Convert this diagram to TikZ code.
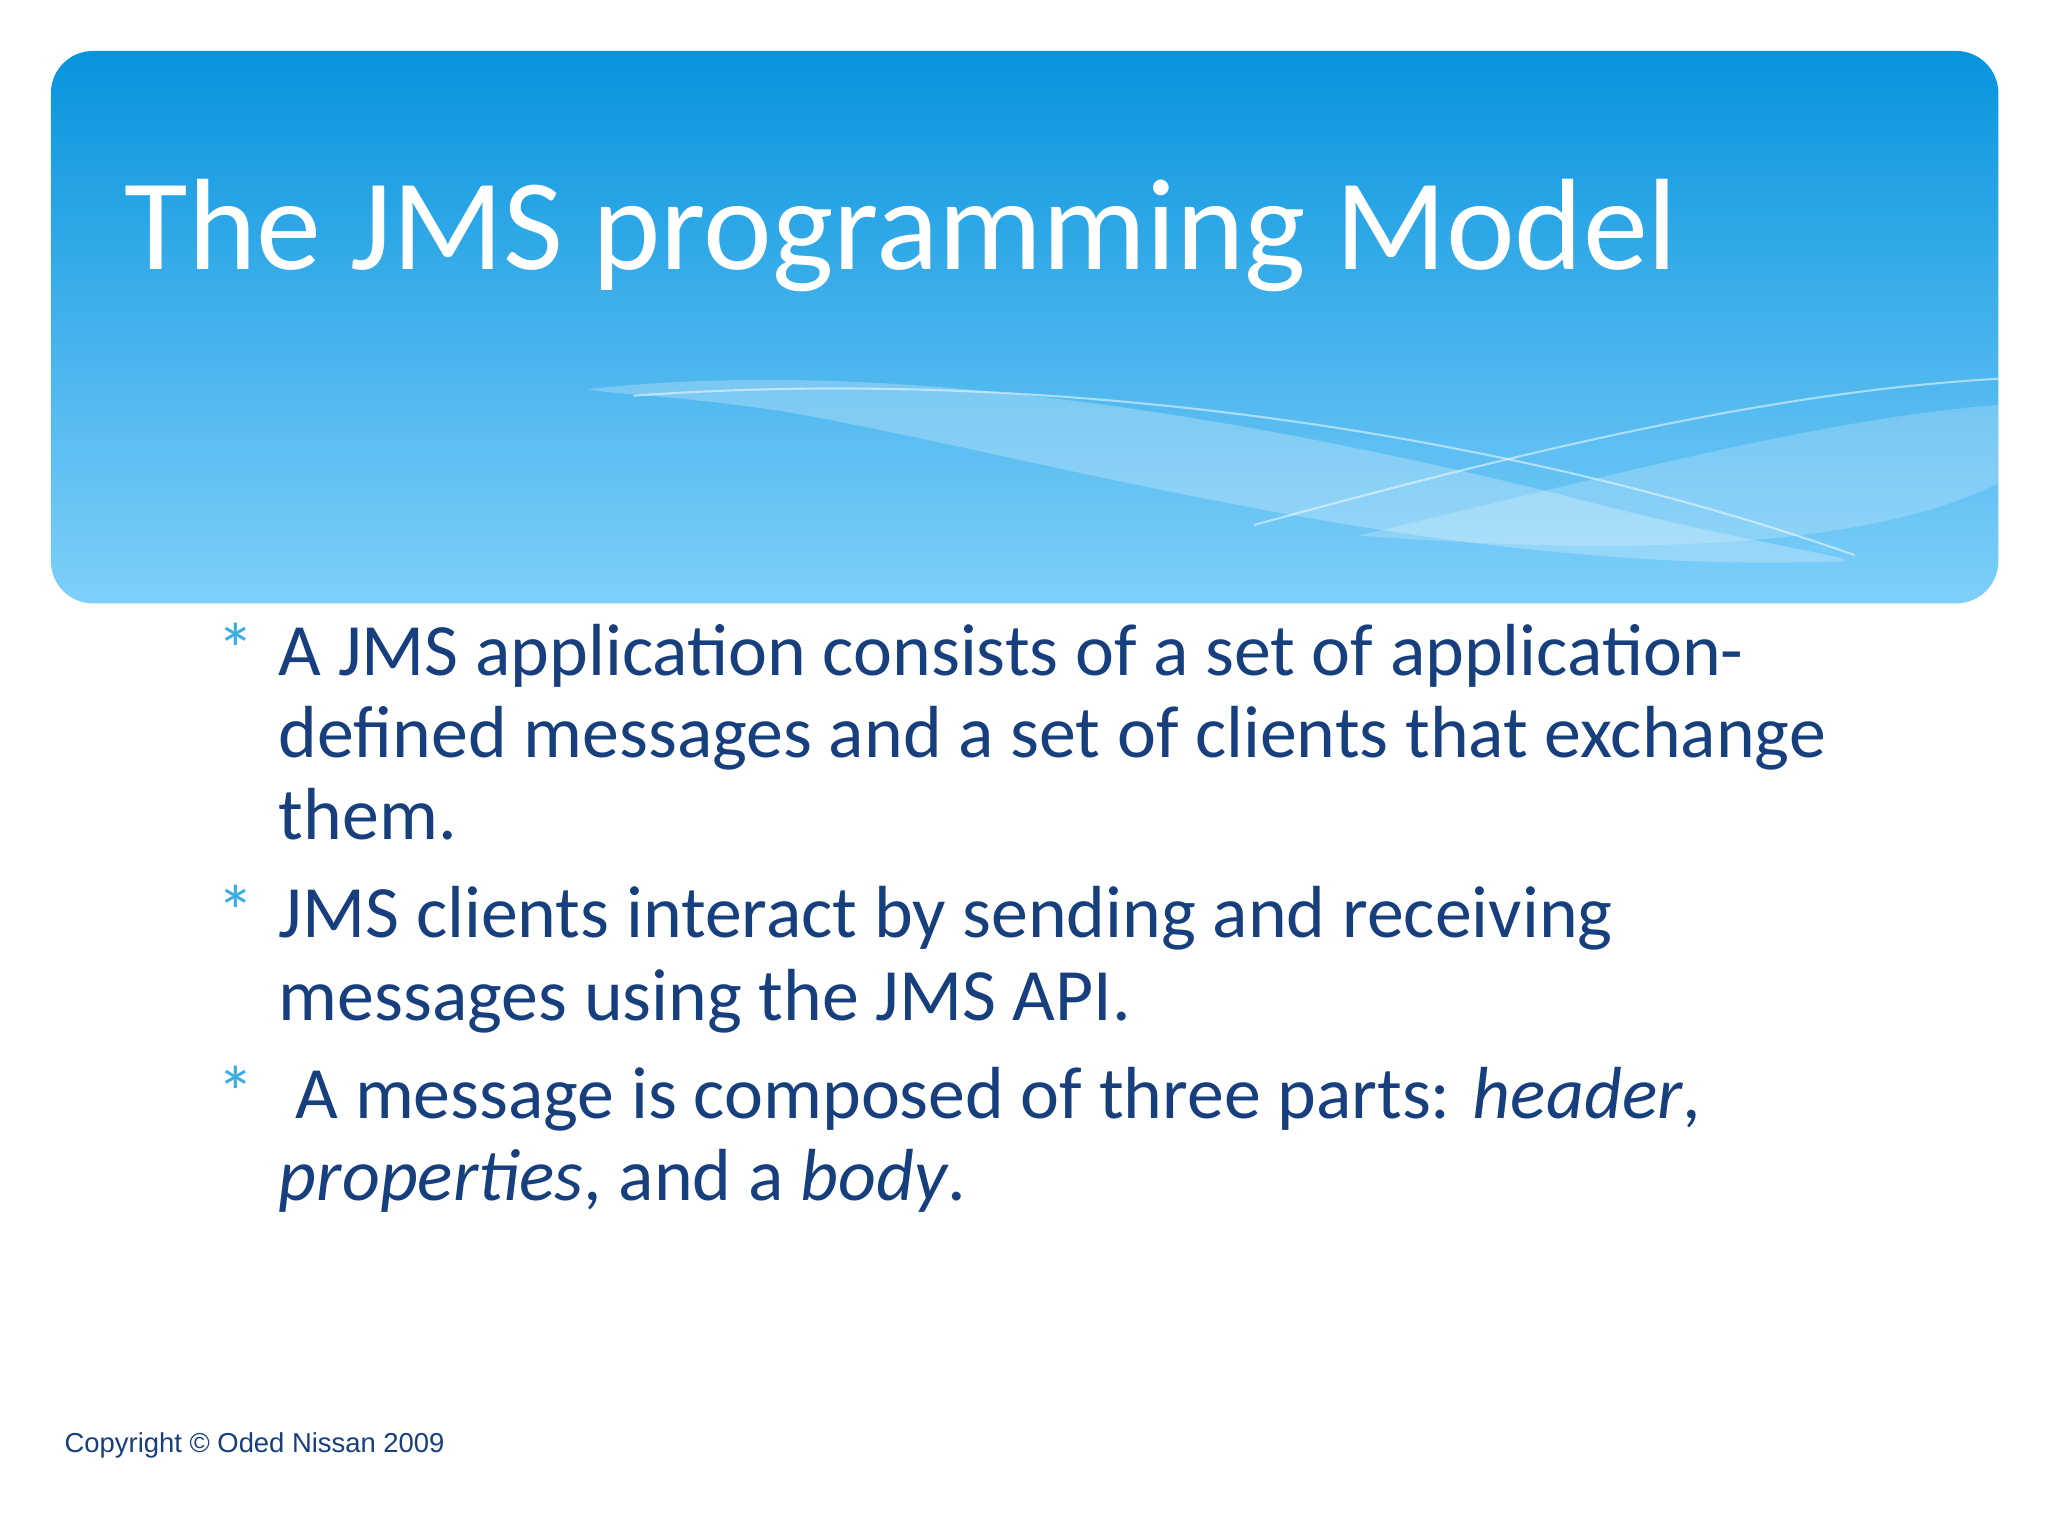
\documentclass[tikz,border=0pt]{standalone}
\usepackage{fontspec}
\setmainfont{Carlito}
\newfontfamily\arialf{Liberation Sans}
\definecolor{hdtop}{HTML}{0794DD}
\definecolor{hdbot}{HTML}{7FCFFA}
\definecolor{txtblue}{HTML}{173F7D}
\definecolor{bulblue}{HTML}{3AAEE2}
\tikzset{
  bline/.style={anchor=base west,inner sep=0pt,text=txtblue,font=\fontsize{21}{25}\selectfont},
  bull/.style={anchor=base west,inner sep=0pt,text=bulblue,font=\fontsize{21}{25}\selectfont},
}
\begin{document}
\begin{tikzpicture}[x=0.013061cm,y=-0.013061cm]
\useasboundingbox (0,0) rectangle (1568,1176);
\fill[white] (0,0) rectangle (1568,1176);
\shade[top color=hdtop,bottom color=hdbot,rounded corners=12pt] (39,39) rectangle (1530,462);
\begin{scope}
\clip[rounded corners=12pt] (39,39) rectangle (1530,462);
\fill[white,opacity=0.25] (450,298) .. controls (700,270) and (1000,330) .. (1200,380) .. controls (1350,420) and (1450,430) .. (1400,430) .. controls (1100,440) and (800,350) .. (600,315) .. controls (520,303) and (470,302) .. (450,298) -- cycle;
\fill[white,opacity=0.2] (1040,410) .. controls (1250,360) and (1400,320) .. (1530,310) -- (1530,370) .. controls (1450,410) and (1300,430) .. (1040,410) -- cycle;
\draw[white,opacity=0.5,line width=0.6pt] (485,303) .. controls (800,280) and (1150,330) .. (1420,425);
\draw[white,opacity=0.5,line width=0.6pt] (960,402) .. controls (1150,350) and (1350,300) .. (1530,290);
\end{scope}
\node[anchor=base west,inner sep=0pt,text=white,font=\fontsize{37}{44}\selectfont] (title) at (95,206) {The JMS programming Model};
\node[bull] (b1) at (166,517) {*};
\node[bline] (l1) at (213,517) {A JMS application consists of a set of application-};
\node[bline] (l2) at (213,580) {defined messages and a set of clients that exchange};
\node[bline] (l3) at (213,643) {them.};
\node[bull] (b2) at (166,718) {*};
\node[bline] (l4) at (213,718) {JMS clients interact by sending and receiving};
\node[bline] (l5) at (213,781) {messages using the JMS API.};
\node[bull] (b3) at (166,856) {*};
\node[bline] (l6) at (213,856) {\ A message is composed of three parts: \textit{header},};
\node[bline] (l7) at (213,919) {\textit{properties}, and a \textit{body}.};
\node[anchor=base west,inner sep=0pt,text=txtblue,font=\arialf\fontsize{7.8}{9}\selectfont] (copy) at (49,1112) {Copyright \textcopyright{} Oded Nissan 2009};
\end{tikzpicture}
\end{document}
